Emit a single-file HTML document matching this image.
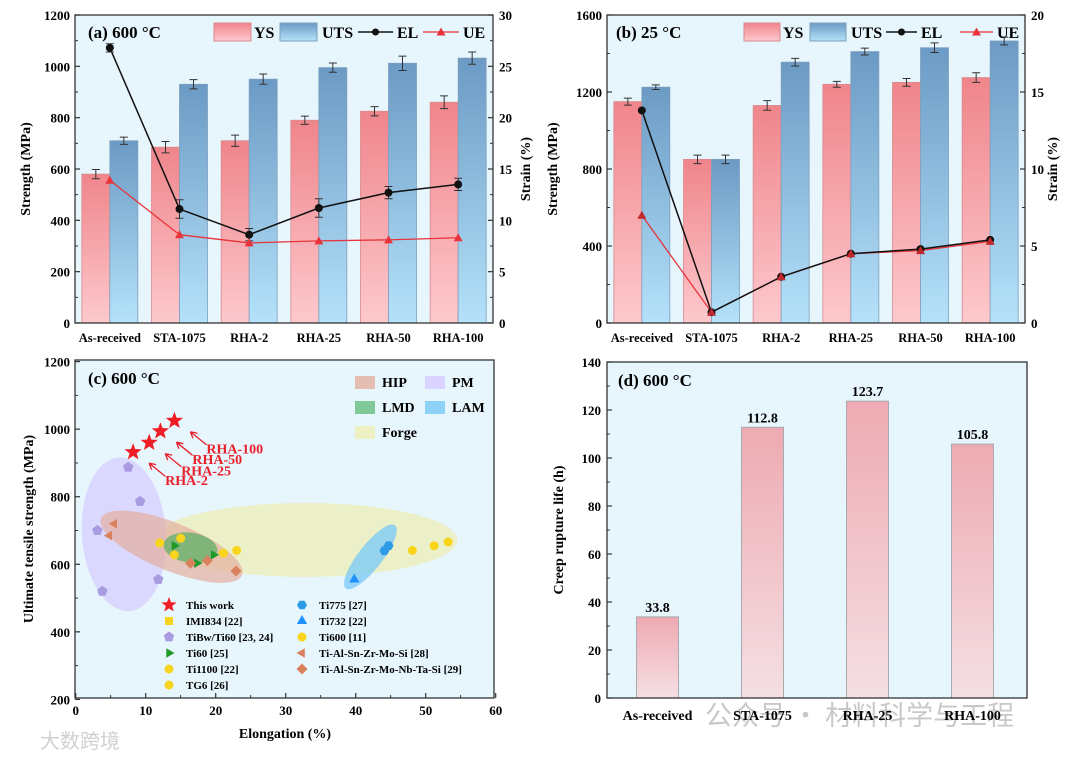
<!DOCTYPE html>
<html><head><meta charset="utf-8"><style>
html,body{margin:0;padding:0;background:#fff;}
svg{display:block;font-family:"Liberation Serif","Noto Serif CJK SC",serif;font-weight:bold;}
</style></head><body>
<svg id="fig" width="1080" height="759" viewBox="0 0 1080 759" xmlns="http://www.w3.org/2000/svg">
<defs>
<linearGradient id="gYS" x1="0" y1="0" x2="0" y2="1"><stop offset="0" stop-color="#ef858b"/><stop offset="1" stop-color="#fdc9cd"/></linearGradient>
<linearGradient id="gUTS" x1="0" y1="0" x2="0" y2="1"><stop offset="0" stop-color="#6b9ac4"/><stop offset="1" stop-color="#b5e2fa"/></linearGradient>
<linearGradient id="gD" x1="0" y1="0" x2="0" y2="1"><stop offset="0" stop-color="#eeaab2"/><stop offset="1" stop-color="#f4dfe3"/></linearGradient>
</defs>
<text x="705" y="725" font-size="27" fill="#c8c8c8" font-weight="normal" style="font-family:'Noto Sans CJK SC',sans-serif">公众号 · 材料科学与工程</text>
<text x="40" y="748" font-size="20" fill="#d0d0d0" font-weight="normal" style="font-family:'Noto Sans CJK SC',sans-serif">大数跨境</text>
</svg>
<script>
// ---------- data ----------
const cats = ['As-received','STA-1075','RHA-2','RHA-25','RHA-50','RHA-100'];
const aYS = [580,685,710,790,825,860];
const aUTS = [710,930,950,995,1012,1032];
const aEL = [26.8,11.1,8.6,11.2,12.7,13.5];
const aUE = [13.9,8.6,7.8,8.0,8.1,8.3];
const aYSerr = [18,22,22,16,18,25];
const aUTSerr = [14,18,20,18,28,24];
const aELerr = [0.4,0.9,0.6,0.9,0.6,0.6];
const bYS = [1150,850,1130,1240,1250,1275];
const bUTS = [1225,850,1355,1410,1430,1465];
const bEL = [13.8,0.7,3.0,4.5,4.8,5.4];
const bUE = [7.0,0.7,3.0,4.5,4.7,5.3];
const bYSerr = [18,22,25,15,20,25];
const bUTSerr = [12,22,20,18,25,20];
const aTicksL = [0,200,400,600,800,1000,1200];
const aTicksR = [0,5,10,15,20,25,30];
const bTicksL = [0,400,800,1200,1600];
const bTicksR = [0,5,10,15,20];
const cTicksX = [0,10,20,30,40,50,60];
const cTicksY = [200,400,600,800,1000,1200];
const dTicksY = [0,20,40,60,80,100,120,140];
const dCats = ['As-received','STA-1075','RHA-25','RHA-100'];
const dVals = [33.8,112.8,123.7,105.8];
const starX = [8.2,10.5,12.1,14.1];
const starY = [932,960,994,1025];
const starLbl = ['RHA-2','RHA-25','RHA-50','RHA-100'];
const pmX = [7.5,9.2,3.1,11.8,3.8];
const pmY = [887,786,700,555,520];
const ti60X = [14.1,19.7,17.3];
const ti60Y = [655,628,603];
const yelX = [12.0,15.0,14.1,21.1,23.0,48.1,51.2,53.2];
const yelY = [663,677,628,633,641,641,655,666];
const ltriX = [5.5,4.8];
const ltriY = [720,685];
const diaX = [16.4,18.8,22.9];
const diaY = [603,611,580];
const hexX = [44.7,44.1];
const hexY = [655,640];
const t732X = [39.8];
const t732Y = [555];

const svg = document.getElementById('fig');
const NS = 'http://www.w3.org/2000/svg';
function mk(tag, attrs, parent){
  const e = document.createElementNS(NS, tag);
  for (const k in attrs) e.setAttribute(k, attrs[k]);
  (parent||svg).appendChild(e);
  return e;
}
function txt(x,y,s,size,anchor,parent,extra){
  const e = mk('text', Object.assign({x:x,y:y,'font-size':size,'text-anchor':anchor||'start'}, extra||{}), parent);
  e.textContent = s;
  return e;
}

// ---------- bar panels a & b ----------
function barPanel(p){
  const g = mk('g', {});
  
  
  const {x0,x1,y0,y1} = p;
  const bg = mk('rect', {x:x0,y:y0,width:x1-x0,height:y1-y0,fill:'#e7f5fd'}, g);
  
  
  const yL = v => y1 - v/p.maxL*(y1-y0);
  const yR = v => y1 - v/p.maxR*(y1-y0);
  const step = (x1-x0)/cats.length;
  const cx = i => x0 + step*(i+0.5);
  const bw = 28;
  for (let i=0;i<cats.length;i++){
    const r1 = mk('rect', {x:cx(i)-bw, y:yL(p.ys[i]), width:bw, height:y1-yL(p.ys[i]), fill:'url(#gYS)', stroke:'#d98a8e','stroke-width':0.8}, g);
    
    
    const r2 = mk('rect', {x:cx(i), y:yL(p.uts[i]), width:bw, height:y1-yL(p.uts[i]), fill:'url(#gUTS)', stroke:'#7d9fbd','stroke-width':0.8}, g);
    
    
    [[cx(i)-bw/2,p.ys[i],p.yse[i]],[cx(i)+bw/2,p.uts[i],p.utse[i]]].forEach(([ex,v,e])=>{
      const eb = mk('path', {d:`M${ex},${yL(v+e)}V${yL(v-e)}M${ex-4},${yL(v+e)}H${ex+4}M${ex-4},${yL(v-e)}H${ex+4}`, stroke:'#333','stroke-width':1,fill:'none'}, g);
      
      
    });
    const cl = txt(cx(i), y1+19, cats[i], 12.5, 'middle', g);
    
    
  }
  const ptsUE = p.ue.map((v,i)=>cx(i)+','+yR(v)).join(' ');
  const lUE = mk('polyline', {points:ptsUE, fill:'none', stroke:'#e8333a','stroke-width':1.3}, g);
  
  
  const ptsEL = p.el.map((v,i)=>cx(i)+','+yR(v)).join(' ');
  const lEL = mk('polyline', {points:ptsEL, fill:'none', stroke:'#111','stroke-width':1.5}, g);
  
  
  for (let i=0;i<cats.length;i++){
    if (p.ele){
      const e = p.ele[i], X = cx(i);
      const eb = mk('path', {d:`M${X},${yR(p.el[i]+e)}V${yR(p.el[i]-e)}M${X-4},${yR(p.el[i]+e)}H${X+4}M${X-4},${yR(p.el[i]-e)}H${X+4}`, stroke:'#333','stroke-width':1,fill:'none'}, g);
      
      
    }
    const d = mk('circle', {cx:cx(i), cy:yR(p.el[i]), r:4, fill:'#111'}, g);
    
    
    const X=cx(i), Y=yR(p.ue[i]);
    const t = mk('path', {d:`M${X},${Y-4.5}L${X+4.5},${Y+3.5}L${X-4.5},${Y+3.5}Z`, fill:p.ueFill||'#e8333a'}, g);
    
    
  }
  const fr = mk('rect', {x:x0,y:y0,width:x1-x0,height:y1-y0,fill:'none',stroke:'#333','stroke-width':1.3}, g);
  
  
  p.tL.forEach((v,k)=>{
    const tk = mk('line', {x1:x0,x2:x0+5,y1:yL(v),y2:yL(v),stroke:'#333','stroke-width':1.2}, g);
    
    
    if (k<p.tL.length-1){
      const m = (v+p.tL[k+1])/2;
      const mt = mk('line', {x1:x0,x2:x0+3,y1:yL(m),y2:yL(m),stroke:'#333','stroke-width':1}, g);
      
      
    }
    const l = txt(x0-5, yL(v)+5, String(v), 13, 'end', g);
    
    
  });
  p.tR.forEach((v,k)=>{
    const tk = mk('line', {x1:x1-5,x2:x1,y1:yR(v),y2:yR(v),stroke:'#333','stroke-width':1.2}, g);
    
    
    if (k<p.tR.length-1){
      const m = (v+p.tR[k+1])/2;
      const mt = mk('line', {x1:x1-3,x2:x1,y1:yR(m),y2:yR(m),stroke:'#333','stroke-width':1}, g);
      
      
    }
    const l = txt(x1+6, yR(v)+5, String(v), 13, 'start', g);
    
    
  });
  const yc = (y0+y1)/2;
  const t1 = txt(p.lt, yc, 'Strength (MPa)', 14, 'middle', g, {transform:`rotate(-90 ${p.lt} ${yc})`});
  
  
  const t2 = txt(p.rt, yc, 'Strain (%)', 14, 'middle', g, {transform:`rotate(-90 ${p.rt} ${yc})`});
  
  
  const tt = txt(p.title[0], y0+23, p.title[1], 17, 'start', g);
  
  
  const L = p.leg, ly = y0+17;
  const s1 = mk('rect', {x:L[0],y:ly-9,width:L[1]-L[0],height:18,fill:'url(#gYS)',stroke:'#d98a8e'}, g);
  
  
  const s1t = txt(L[1]+3, ly+6, 'YS', 16, 'start', g);
  
  
  const s2 = mk('rect', {x:L[2],y:ly-9,width:L[3]-L[2],height:18,fill:'url(#gUTS)',stroke:'#7d9fbd'}, g);
  
  
  const s2t = txt(L[3]+5, ly+6, 'UTS', 16, 'start', g);
  
  
  const s3 = mk('line', {x1:L[4],x2:L[5],y1:ly,y2:ly,stroke:'#111','stroke-width':1.5}, g);
  
  
  const s3d = mk('circle', {cx:(L[4]+L[5])/2,cy:ly,r:3.5,fill:'#111'}, g);
  
  
  const s3t = txt(L[5]+4, ly+6, 'EL', 16, 'start', g);
  
  
  const s4 = mk('line', {x1:L[6],x2:L[7],y1:ly,y2:ly,stroke:'#e8333a','stroke-width':1.3}, g);
  
  
  const m4 = (L[6]+L[7])/2;
  const s4d = mk('path', {d:`M${m4},${ly-4.5}L${m4+4.5},${ly+3.5}L${m4-4.5},${ly+3.5}Z`,fill:'#e8333a'}, g);
  
  
  const s4t = txt(L[7]+4, ly+6, 'UE', 16, 'start', g);
  
  
}
barPanel({name:'panel-a-600c-tensile',x0:75,x1:493,y0:15,y1:323,maxL:1200,maxR:30,ys:aYS,uts:aUTS,el:aEL,ue:aUE,yse:aYSerr,utse:aUTSerr,ele:aELerr,tL:aTicksL,tR:aTicksR,lt:30,rt:530,title:[88,'(a) 600 °C'],leg:[214,251,280,317,358,393,423,459]});
barPanel({name:'panel-b-25c-tensile',x0:607,x1:1025,y0:15,y1:323,maxL:1600,maxR:20,ys:bYS,uts:bUTS,el:bEL,ue:bUE,yse:bYSerr,utse:bUTSerr,ele:null,tL:bTicksL,tR:bTicksR,lt:557,rt:1057,title:[616,'(b)  25 °C'],leg:[744,780,810,846,886,917,960,993],ueFill:'#c0282e'});

// ---------- panel c ----------
(function(){
  const g = mk('g', {});
  
  
  const x0=75, x1=494, y0=360, y1=698;
  const X = v => 75.7 + v*7.0;
  const Y = v => 361.6 + (1200-v)*0.3378;
  const bg = mk('rect', {x:x0,y:y0,width:x1-x0,height:y1-y0,fill:'#e7f5fd'}, g);
  
  
  const ells = [
    ['forge-region',32.8,672,152,37,0,'rgba(236,240,195,0.9)'],
    ['pm-region',6.9,689,42,77,-4,'rgba(215,205,255,0.75)'],
    ['hip-region',13.7,652,76,24,22,'rgba(228,175,160,0.7)'],
    ['lmd-region',16.4,649,27,15,8,'rgba(60,170,85,0.6)'],
    ['lam-region',42.1,622,40,12,-52,'rgba(120,200,245,0.75)']
  ];
  ells.forEach(e=>{
    const el = mk('ellipse', {cx:X(e[1]),cy:Y(e[2]),rx:e[3],ry:e[4],fill:e[6],transform:`rotate(${e[5]} ${X(e[1])} ${Y(e[2])})`}, g);
    
    
  });
  function shp(type,cx,cy,r,fill){
    let d;
    if (type==='circle') return mk('circle',{cx:cx,cy:cy,r:r,fill:fill},g);
    const poly = (n,rot)=>{let s='';for(let k=0;k<n;k++){const a=rot+k*2*Math.PI/n;s+=(k?'L':'M')+(cx+r*Math.cos(a)).toFixed(1)+','+(cy+r*Math.sin(a)).toFixed(1);}return s+'Z';};
    if (type==='pent') d=poly(5,-Math.PI/2);
    else if (type==='hex') d=poly(6,0);
    else if (type==='tri') d=poly(3,-Math.PI/2);
    else if (type==='rtri') d=poly(3,0);
    else if (type==='ltri') d=poly(3,Math.PI);
    else if (type==='dia') d=poly(4,0);
    else if (type==='sq') d=`M${cx-r*0.8},${cy-r*0.8}h${1.6*r}v${1.6*r}h${-1.6*r}Z`;
    else if (type==='star'){d='';for(let k=0;k<10;k++){const a=-Math.PI/2+k*Math.PI/5;const rr=k%2?r*0.42:r;d+=(k?'L':'M')+(cx+rr*Math.cos(a)).toFixed(1)+','+(cy+rr*Math.sin(a)).toFixed(1);}d+='Z';}
    return mk('path',{d:d,fill:fill},g);
  }
  const series = [
    ['tibw-ti60-point','pent',pmX,pmY,5.5,'#a89be0'],
    ['ti-al-sn-zr-mo-si-point','ltri',ltriX,ltriY,5.5,'#d9805c'],
    ['tg6-ti1100-ti600-point','circle',yelX,yelY,4.5,'#f8d51c'],
    ['ti60-point','rtri',ti60X,ti60Y,5.5,'#1f9a2a'],
    ['ti-al-sn-zr-mo-nb-ta-si-point','dia',diaX,diaY,5.5,'#d9805c'],
    ['ti775-point','hex',hexX,hexY,5,'#2e9be6'],
    ['ti732-point','tri',t732X,t732Y,6,'#1e90ff'],
    ['this-work-star','star',starX,starY,9,'#ee1c24']
  ];
  series.forEach(s=>{
    s[2].forEach((v,i)=>{
      const m = shp(s[1], X(v), Y(s[3][i]), s[4], s[5]);
      
      
    });
  });
  starLbl.forEach((lbl,i)=>{
    const sx = X(starX[i]), sy = Y(starY[i]);
    const tx = sx+16, ty = sy+11;
    const a = mk('path', {d:`M${tx+16},${ty+13}L${tx},${ty}M${tx},${ty}l7,1.5M${tx},${ty}l2.5,6.5`, stroke:'#e8202a','stroke-width':1.3, fill:'none'}, g);
    
    
    const t = txt(tx+16, ty+22, lbl, 14, 'start', g, {fill:'#e8202a'});
    
    
  });
  const fr = mk('rect', {x:x0,y:y0,width:x1-x0,height:y1-y0,fill:'none',stroke:'#333','stroke-width':1.3}, g);
  
  
  cTicksX.forEach((v,k)=>{
    const tk = mk('line', {x1:X(v),x2:X(v),y1:y1,y2:y1-5,stroke:'#333','stroke-width':1.2}, g);
    
    
    if (k<cTicksX.length-1){
      const m=(v+cTicksX[k+1])/2;
      const mt = mk('line', {x1:X(m),x2:X(m),y1:y1,y2:y1-3,stroke:'#333'}, g);
      
      
    }
    const l = txt(X(v), y1+17, String(v), 13, 'middle', g);
    
    
  });
  cTicksY.forEach((v,k)=>{
    const tk = mk('line', {x1:x0,x2:x0+5,y1:Y(v),y2:Y(v),stroke:'#333','stroke-width':1.2}, g);
    
    
    if (k<cTicksY.length-1){
      const m=(v+cTicksY[k+1])/2;
      const mt = mk('line', {x1:x0,x2:x0+3,y1:Y(m),y2:Y(m),stroke:'#333'}, g);
      
      
    }
    const l = txt(x0-5, Y(v)+5, String(v), 13, 'end', g);
    
    
  });
  const xt = txt(285, 738, 'Elongation (%)', 14, 'middle', g);
  
  
  const yt = txt(33, 529, 'Ultimate tensile strength (MPa)', 14, 'middle', g, {transform:'rotate(-90 33 529)'});
  
  
  const tt = txt(88, 384, '(c)  600 °C', 17, 'start', g);
  
  
  const reg = [['HIP',355,382,'rgba(228,175,160,0.8)'],['PM',425,382,'rgba(215,205,255,0.85)'],['LMD',355,407,'rgba(60,170,85,0.6)'],['LAM',425,407,'rgba(120,200,245,0.8)'],['Forge',355,432,'rgba(236,240,195,1)']];
  reg.forEach(r=>{
    const sw = mk('rect', {x:r[1],y:r[2]-6,width:20,height:13,fill:r[3]}, g);
    
    
    const t = txt(r[1]+27, r[2]+5, r[0], 14, 'start', g);
    
    
  });
  const leg = [
    ['star',169,605,8,'#ee1c24','This work'],['sq',169,621,5,'#f8d51c','IMI834 [22]'],['pent',169,637,5.5,'#a89be0','TiBw/Ti60 [23, 24]'],
    ['rtri',169,653,5.5,'#1f9a2a','Ti60 [25]'],['circle',169,669,4.5,'#f8d51c','Ti1100 [22]'],['circle',169,685,4.5,'#f8d51c','TG6 [26]'],
    ['hex',302,605,5,'#2e9be6','Ti775 [27]'],['tri',302,621,6,'#1e90ff','Ti732 [22]'],['circle',302,637,4.5,'#f8d51c','Ti600 [11]'],
    ['ltri',302,653,5.5,'#d9805c','Ti-Al-Sn-Zr-Mo-Si [28]'],['dia',302,669,5.5,'#d9805c','Ti-Al-Sn-Zr-Mo-Nb-Ta-Si [29]']
  ];
  leg.forEach(l=>{
    const m = shp(l[0], l[1], l[2], l[3], l[4]);
    
    
    const t = txt(l[1]+17, l[2]+4, l[5], 11, 'start', g);
    
    
  });
})();

// ---------- panel d ----------
(function(){
  const g = mk('g', {});
  
  
  const x0=607, x1=1027, y0=362, y1=698;
  const Y = v => y1 - v/140*(y1-y0);
  const step = (x1-x0)/dCats.length;
  const cx = i => x0 + step*(i+0.5) - 2;
  const bg = mk('rect', {x:x0,y:y0,width:x1-x0,height:y1-y0,fill:'#e7f5fd'}, g);
  
  
  dVals.forEach((v,i)=>{
    const r = mk('rect', {x:cx(i)-21,y:Y(v),width:42,height:y1-Y(v),fill:'url(#gD)',stroke:'#a9a9b0','stroke-width':1}, g);
    
    
    const l = txt(cx(i), Y(v)-5, v.toFixed(1), 14, 'middle', g);
    
    
    const c = txt(cx(i), y1+22, dCats[i], 14, 'middle', g);
    
    
  });
  const fr = mk('rect', {x:x0,y:y0,width:x1-x0,height:y1-y0,fill:'none',stroke:'#333','stroke-width':1.3}, g);
  
  
  dTicksY.forEach((v,k)=>{
    const tk = mk('line', {x1:x0,x2:x0+5,y1:Y(v),y2:Y(v),stroke:'#333','stroke-width':1.2}, g);
    
    
    if (k<dTicksY.length-1){
      const m=(v+dTicksY[k+1])/2;
      const mt = mk('line', {x1:x0,x2:x0+3,y1:Y(m),y2:Y(m),stroke:'#333'}, g);
      
      
    }
    const l = txt(x0-6, Y(v)+5, String(v), 13, 'end', g);
    
    
  });
  const yt = txt(563, 530, 'Creep rupture life (h)', 14, 'middle', g, {transform:'rotate(-90 563 530)'});
  
  
  const tt = txt(618, 386, '(d) 600 °C', 17, 'start', g);
  
  
})();
</script>
</body></html>
